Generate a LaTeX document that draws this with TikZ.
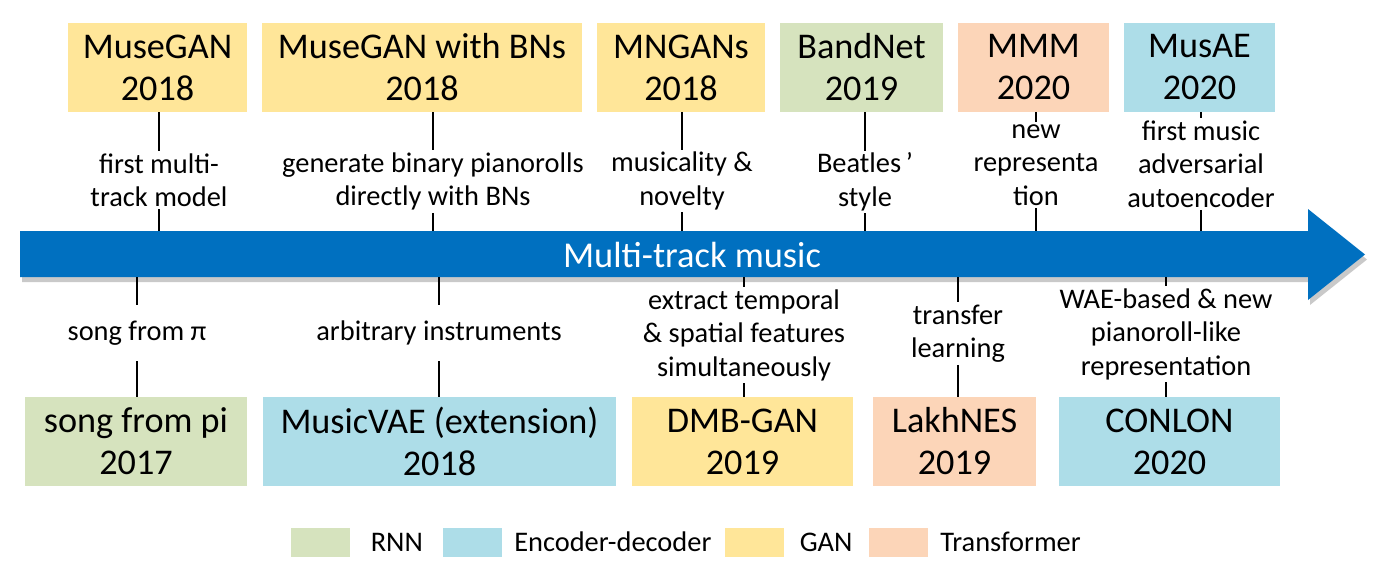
\documentclass[tikz,border=0pt]{standalone}
\usepackage{fontspec}
\setmainfont{Carlito}
\usepackage{xcolor}
\usetikzlibrary{positioning, shadows}

\definecolor{rnngreen}{HTML}{D6E3BE}
\definecolor{encblue}{HTML}{ADDDE8}
\definecolor{ganyellow}{HTML}{FFE699}
\definecolor{tfpeach}{HTML}{FCD5B8}
\definecolor{barblue}{HTML}{0070C0}

\begin{document}
\begin{tikzpicture}[
    x=0.5pt, y=-0.5pt,
    model/.style={rectangle, inner sep=0pt, minimum height=44.5pt, align=center, font=\fontsize{18.1}{21}\selectfont},
    note/.style={inner sep=1pt, align=center, font=\fontsize{14.2}{16.75}\selectfont},
    link/.style={draw=black, line width=0.6pt},
    key/.style={rectangle, minimum width=29.5pt, minimum height=14.5pt, inner sep=0pt},
    keytext/.style={inner sep=0pt, text height=9.1pt, text depth=0pt, font=\fontsize{14.2}{16}\selectfont}
]
\useasboundingbox (0,0) rectangle (1388,578);

\path[fill=barblue, drop shadow={shadow xshift=1pt, shadow yshift=-2.5pt, opacity=0.3, fill=black!70}]
    (20,231) -- (1308,231) -- (1308,209) -- (1365,254.5) -- (1308,300) -- (1308,277) -- (20,277) -- cycle;
\coordinate (bar_top) at (20,231);
\coordinate (bar_bot) at (20,277);
\node[text=white, inner sep=0pt, font=\fontsize{18.2}{21}\selectfont] (bar) at (692,254.5) {Multi-track music};

\node[model, fill=ganyellow, minimum width=89.5pt] (musegan) at (157.5,67.5) {MuseGAN\\2018};
\node[model, fill=ganyellow, minimum width=160pt] (musegan_bn) at (422,67.5) {MuseGAN with BNs\\2018};
\node[model, fill=ganyellow, minimum width=84pt] (mngans) at (681,67.5) {MNGANs\\2018};
\node[model, fill=rnngreen, minimum width=81.5pt] (bandnet) at (861.5,67.5) {BandNet\\2019};
\node[model, fill=tfpeach, minimum width=75.5pt] (mmm) at (1033.5,67.5) {MMM\\2020};
\node[model, fill=encblue, minimum width=75.5pt] (musae) at (1199.5,67.5) {MusAE\\2020};

\node[model, fill=rnngreen, minimum width=111pt] (song_pi) at (136,441.5) {song from pi\\2017};
\node[model, fill=encblue, minimum width=176.5pt] (musicvae) at (439.5,441.5) {MusicVAE (extension)\\2018};
\node[model, fill=ganyellow, minimum width=110.5pt] (dmbgan) at (742.5,441.5) {DMB-GAN\\2019};
\node[model, fill=tfpeach, minimum width=81.5pt] (lakhnes) at (954.5,441.5) {LakhNES\\2019};
\node[model, fill=encblue, minimum width=110.5pt] (conlon) at (1169.5,441.5) {CONLON\\2020};

\node[note] (n_musegan) at (159,180) {first multi-\\track model};
\node[note] (n_musegan_bn) at (433,181.5) {generate binary pianorolls\\directly with BNs};
\node[note] (n_mngans) at (682,181) {musicality \&\\novelty};
\node[note] (n_bandnet) at (865,182) {Beatles\,’\\style};
\node[note] (n_mmm) at (1036,165) {new\\representa\\tion};
\node[note] (n_musae) at (1201,164) {first music\\adversarial\\autoencoder};

\node[note, inner sep=0pt, minimum height=28pt] (n_song_pi) at (137,333) {song from π};
\node[note, inner sep=0pt, minimum height=28pt] (n_musicvae) at (439,333) {arbitrary instruments};
\node[note] (n_dmbgan) at (744,335) {extract temporal\\\& spatial features\\simultaneously};
\node[note] (n_lakhnes) at (958,333.5) {transfer\\learning};
\node[note] (n_conlon) at (1166,334) {WAE-based \& new\\pianoroll-like\\representation};

\draw[link] (musegan.south -| n_musegan) -- (n_musegan);
\draw[link] (n_musegan) -- (n_musegan |- bar_top);
\draw[link] (musegan_bn.south -| n_musegan_bn) -- (n_musegan_bn);
\draw[link] (n_musegan_bn) -- (n_musegan_bn |- bar_top);
\draw[link] (mngans.south -| n_mngans) -- (n_mngans);
\draw[link] (n_mngans) -- (n_mngans |- bar_top);
\draw[link] (bandnet.south -| n_bandnet) -- (n_bandnet);
\draw[link] (n_bandnet) -- (n_bandnet |- bar_top);
\draw[link] (mmm.south -| n_mmm) -- (n_mmm);
\draw[link] (n_mmm) -- (n_mmm |- bar_top);
\draw[link] (musae.south -| n_musae) -- (n_musae);
\draw[link] (n_musae) -- (n_musae |- bar_top);

\draw[link] (n_song_pi |- bar_bot) -- (n_song_pi);
\draw[link] (n_song_pi) -- (n_song_pi |- song_pi.north);
\draw[link] (n_musicvae |- bar_bot) -- (n_musicvae);
\draw[link] (n_musicvae) -- (n_musicvae |- musicvae.north);
\draw[link] (n_dmbgan |- bar_bot) -- (n_dmbgan);
\draw[link] (n_dmbgan) -- (n_dmbgan |- dmbgan.north);
\draw[link] (n_lakhnes |- bar_bot) -- (n_lakhnes);
\draw[link] (n_lakhnes) -- (n_lakhnes |- lakhnes.north);
\draw[link] (n_conlon |- bar_bot) -- (n_conlon);
\draw[link] (n_conlon) -- (n_conlon |- conlon.north);

\node[key, fill=rnngreen] (key_rnn) at (320.5,542.5) {};
\node[keytext, right=10pt of key_rnn] (txt_rnn) {RNN};
\node[key, fill=encblue] (key_enc) at (472,542.5) {};
\node[keytext, right=6pt of key_enc] (txt_enc) {Encoder-decoder};
\node[key, fill=ganyellow] (key_gan) at (754.5,542.5) {};
\node[keytext, right=7.5pt of key_gan] (txt_gan) {GAN};
\node[key, fill=tfpeach] (key_tf) at (898,542.5) {};
\node[keytext, right=6pt of key_tf] (txt_tf) {Transformer};

\end{tikzpicture}
\end{document}
